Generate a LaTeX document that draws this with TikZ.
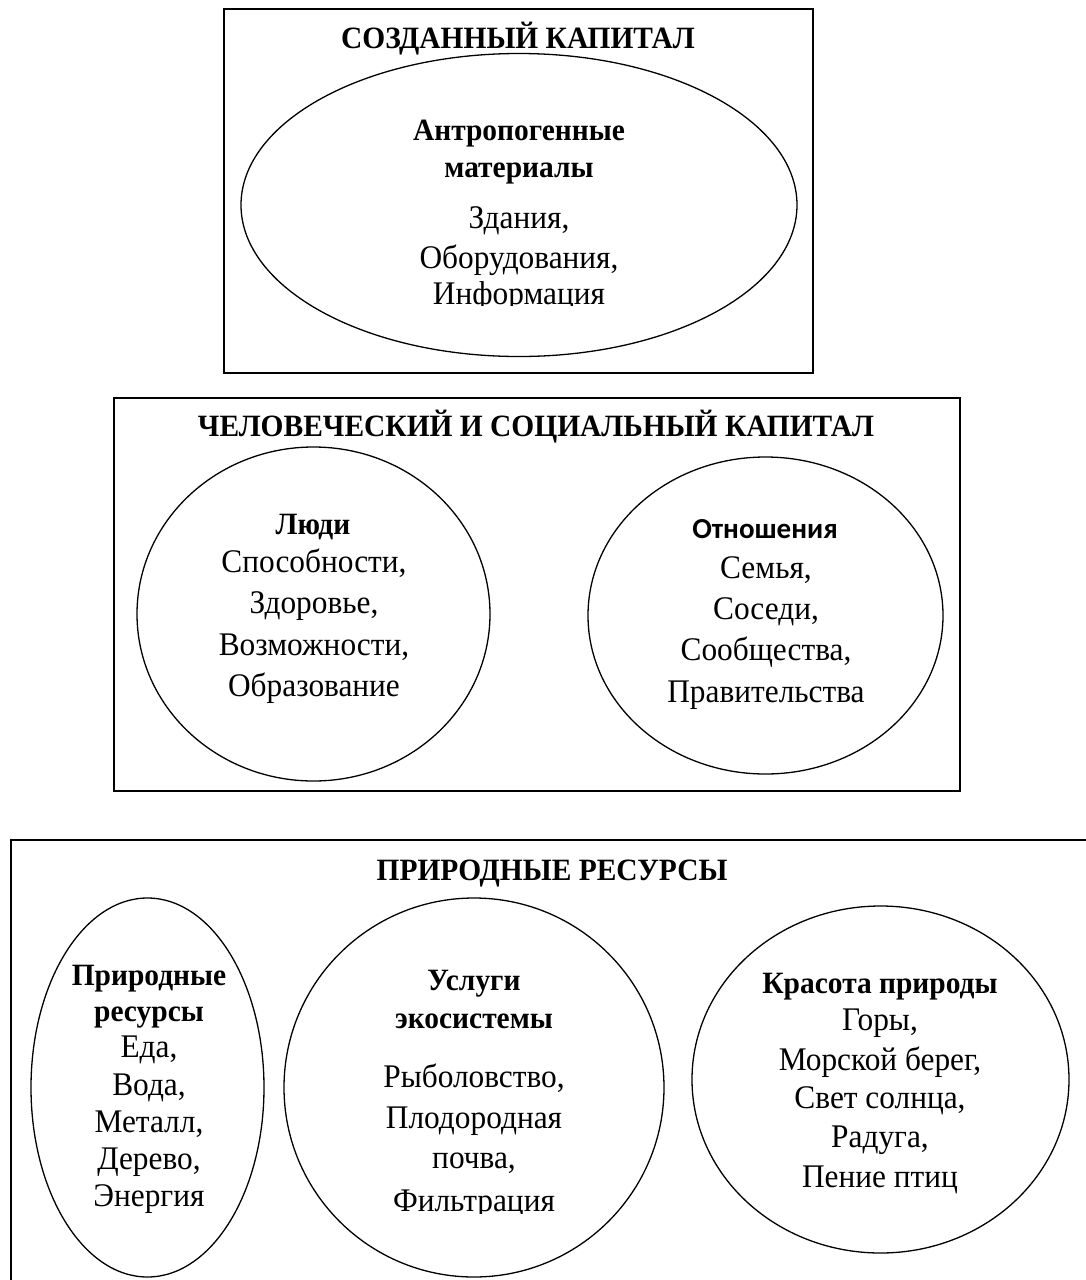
\documentclass[tikz,border=0pt]{standalone}
\usepackage{fontspec}
\setmainfont{Liberation Serif}[FakeStretch=0.95]
\newfontfamily\hsans{Carlito}
\usetikzlibrary{shapes.geometric}
\begin{document}
\begin{tikzpicture}[x=1pt,y=-1pt,
  frame/.style={draw, line width=1.8pt, inner sep=0pt},
  oval/.style={draw, ellipse, line width=1.3pt, inner sep=0pt},
  ttl/.style={inner sep=0pt, anchor=base, font=\fontsize{31}{36}\selectfont\bfseries},
  hd/.style={inner sep=0pt, anchor=base, font=\fontsize{31}{36}\selectfont\bfseries},
  hdsans/.style={inner sep=0pt, anchor=base, font=\fontsize{29}{36}\selectfont\hsans\bfseries},
  bd/.style={inner sep=0pt, anchor=base, font=\fontsize{33}{38}\selectfont}]
\useasboundingbox (0,0) rectangle (1085,1280);

% ---------- top box
\node[frame, minimum width=589pt, minimum height=364pt] (boxA) at (518.5,191) {};
\node[ttl] (ttlA) at (518,48) {СОЗДАННЫЙ КАПИТАЛ};
\node[oval, minimum width=556pt, minimum height=303pt] (ovA) at (519,205) {};
\node[hd] (hA1) at (519,140) {Антропогенные};
\node[hd] (hA2) at (519,177) {материалы};
\node[bd] (bA1) at (519,228) {Здания,};
\node[bd] (bA2) at (519,268) {Оборудования,};
\begin{scope}
  \clip (380,270) rectangle (660,305);
  \node[bd] (bA3) at (519,304) {Информация};
\end{scope}

% ---------- middle box
\node[frame, minimum width=846pt, minimum height=393pt] (boxB) at (537,594.5) {};
\node[ttl] (ttlB) at (536,436) {ЧЕЛОВЕЧЕСКИЙ И СОЦИАЛЬНЫЙ КАПИТАЛ};
\node[oval, minimum width=353pt, minimum height=334pt] (ovB1) at (313.5,614) {};
\node[oval, minimum width=355pt, minimum height=317pt] (ovB2) at (765.5,615.5) {};
\node[hd] (hB1) at (313,534) {Люди};
\foreach \t/\yy [count=\i] in {{Способности,}/572,{Здоровье,}/613,{Возможности,}/655,{Образование}/696}
  \node[bd, name=bB\i] at (314,\yy) {\t};
\node[hdsans] (hB2) at (765,538) {Отношения};
\foreach \t/\yy [count=\i] in {{Семья,}/578,{Соседи,}/619,{Сообщества,}/660,{Правительства}/702}
  \node[bd, name=cB\i] at (766,\yy) {\t};

% ---------- bottom box (open at right and bottom)
\node[frame, minimum width=1100pt, minimum height=470pt, anchor=north west] (boxC) at (10,839) {};
\node[ttl] (ttlC) at (552,880) {ПРИРОДНЫЕ РЕСУРСЫ};
\node[oval, minimum width=233pt, minimum height=379pt] (ovC1) at (147.5,1087.5) {};
\node[oval, minimum width=380pt, minimum height=379pt] (ovC2) at (474,1087.5) {};
\node[oval, minimum width=377pt, minimum height=347pt] (ovC3) at (880.5,1079.5) {};

\node[hd] (hC1a) at (149,985) {Природные};
\node[hd] (hC1b) at (149,1021) {ресурсы};
\foreach \t/\yy [count=\i] in {{Еда,}/1057,{Вода,}/1095,{Металл,}/1132,{Дерево,}/1169,{Энергия}/1206}
  \node[bd, name=bC\i] at (149,\yy) {\t};

\node[hd] (hC2a) at (474,990) {Услуги};
\node[hd] (hC2b) at (474,1028) {экосистемы};
\foreach \t/\yy [count=\i] in {{Рыболовство,}/1087,{Плодородная}/1128,{почва,}/1168}
  \node[bd, name=cC\i] at (474,\yy) {\t};
\begin{scope}
  \clip (340,1180) rectangle (610,1213);
  \node[bd] (cC4) at (474,1211) {Фильтрация};
\end{scope}

\node[hd] (hC3) at (880,993) {Красота природы};
\foreach \t/\yy [count=\i] in {{Горы,}/1030,{Морской берег,}/1070,{Свет солнца,}/1108,{Радуга,}/1147,{Пение птиц}/1187}
  \node[bd, name=dC\i] at (880,\yy) {\t};
\end{tikzpicture}
\end{document}
